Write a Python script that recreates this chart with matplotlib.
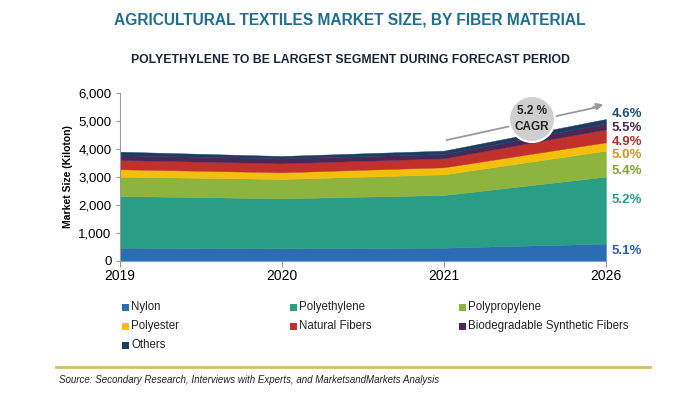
import matplotlib.pyplot as plt
from matplotlib.patches import Circle, Rectangle

years = ['2019', '2020', '2021', '2026']
segments = ['Nylon', 'Polyethylene', 'Polypropylene', 'Polyester',
            'Natural Fibers', 'Biodegradable Synthetic Fibers', 'Others']
nylon = [475, 452, 475, 619]
polyethylene = [1846, 1786, 1882, 2393]
polypropylene = [690, 691, 738, 928]
polyester = [264, 238, 250, 298]
natural = [332, 321, 322, 464]
biodegradable = [168, 179, 154, 215]
others = [129, 83, 119, 154]
cagr = ['5.1%', '5.2%', '5.4%', '5.0%', '4.9%', '5.5%', '4.6%']

colors = ['#2b6cb3', '#2a9d86', '#8db43e', '#f4bf0c', '#c1312b', '#4b2756', '#1b3d63']
label_colors = ['#2b5f9e', '#2a9d86', '#7fa431', '#c9961a', '#a8302b', '#4b2756', '#1e4d7a']
cond = ['Liberation Sans', 'DejaVu Sans']

fig = plt.figure(figsize=(7, 3.93), dpi=100)
ax = fig.add_axes([0.1714, 0.3359, 0.6943, 0.4275])

x = list(range(len(years)))
series = [nylon, polyethylene, polypropylene, polyester, natural, biodegradable, others]
polys = ax.stackplot(x, *series, colors=colors)
for p, c in zip(polys, colors):
    p.set_edgecolor(c)
    p.set_linewidth(0.3)

ax.set_xlim(0, 3)
ax.set_ylim(0, 6000)
ax.set_yticks(range(0, 6001, 1000))
ax.set_yticklabels(['{:,}'.format(v) for v in range(0, 6001, 1000)], fontsize=9.5,
                   family=cond)
ax.set_xticks(x)
ax.set_xticklabels(years, fontsize=10, family=cond)
ax.tick_params(axis='x', length=4, color='#999999', pad=2)
ax.tick_params(axis='y', length=3, color='#999999', pad=3)
for s in ['top', 'right']:
    ax.spines[s].set_visible(False)
for s in ['left', 'bottom']:
    ax.spines[s].set_color('#999999')
ax.set_ylabel('Market Size (Kiloton)', fontsize=7.5, fontweight='bold', labelpad=4,
              family=cond)

# CAGR labels at the right end
label_y = [251, 200, 171, 155, 142, 128, 114]
for lbl, c, yp in zip(cagr, label_colors, label_y):
    fig.text(612 / 700, 1 - yp / 393, lbl, color=c, fontsize=9.5, fontweight='bold',
             va='center', ha='left', family=cond)

# arrow and CAGR bubble
fig.add_artist(plt.Line2D([447 / 700, 598 / 700], [1 - 140 / 393, 1 - 107 / 393],
                          color='#999999', lw=1.3))
ax.annotate('', xy=(606 / 700, 1 - 104 / 393), xytext=(590 / 700, 1 - 108 / 393),
            xycoords='figure fraction', textcoords='figure fraction',
            arrowprops=dict(arrowstyle='-|>', color='#999999', lw=1.3, mutation_scale=10))
circ = Circle((532, 393 - 119), 23, transform=None, facecolor='#cfcfcf',
              edgecolor='white', lw=1.5, zorder=5)
fig.patches.append(circ)
fig.text(532 / 700, 1 - 119 / 393, '5.2 %\nCAGR', ha='center', va='center', fontsize=8.5,
         fontweight='bold', color='#222222', linespacing=1.5, zorder=6, family=cond)

# titles
fig.text(0.5, 1 - 20 / 393, 'AGRICULTURAL TEXTILES MARKET SIZE, BY FIBER MATERIAL',
         ha='center', va='center', fontsize=11.2, fontweight='bold', color='#1e6f8e',
         family=cond)
fig.text(0.5, 1 - 60 / 393, 'POLYETHYLENE TO BE LARGEST SEGMENT DURING FORECAST PERIOD',
         ha='center', va='center', fontsize=8.8, fontweight='bold', color='#17263d',
         family=cond)

# legend, laid out row by row in three columns
col_x = [122, 290, 459]
row_y = [307, 326, 345]
for i, (name, c) in enumerate(zip(segments, colors)):
    lx = col_x[i % 3]
    ly = row_y[i // 3]
    fig.patches.append(Rectangle((lx, 393 - ly - 3.5), 7, 7, transform=None,
                                 facecolor=c, edgecolor='none'))
    fig.text((lx + 9) / 700, 1 - ly / 393, name, fontsize=8.3, va='center', ha='left',
             color='#222222', family=cond)

# separator and source
fig.add_artist(plt.Line2D([56 / 700, 650 / 700], [1 - 367 / 393, 1 - 367 / 393],
                          color='#d4bf6e', lw=2))
fig.text(59 / 700, 1 - 380 / 393,
         'Source: Secondary Research, Interviews with Experts, and MarketsandMarkets Analysis',
         fontsize=7, style='italic', va='center', color='#222222', family=cond)

fig.savefig('out.png', dpi=100)
